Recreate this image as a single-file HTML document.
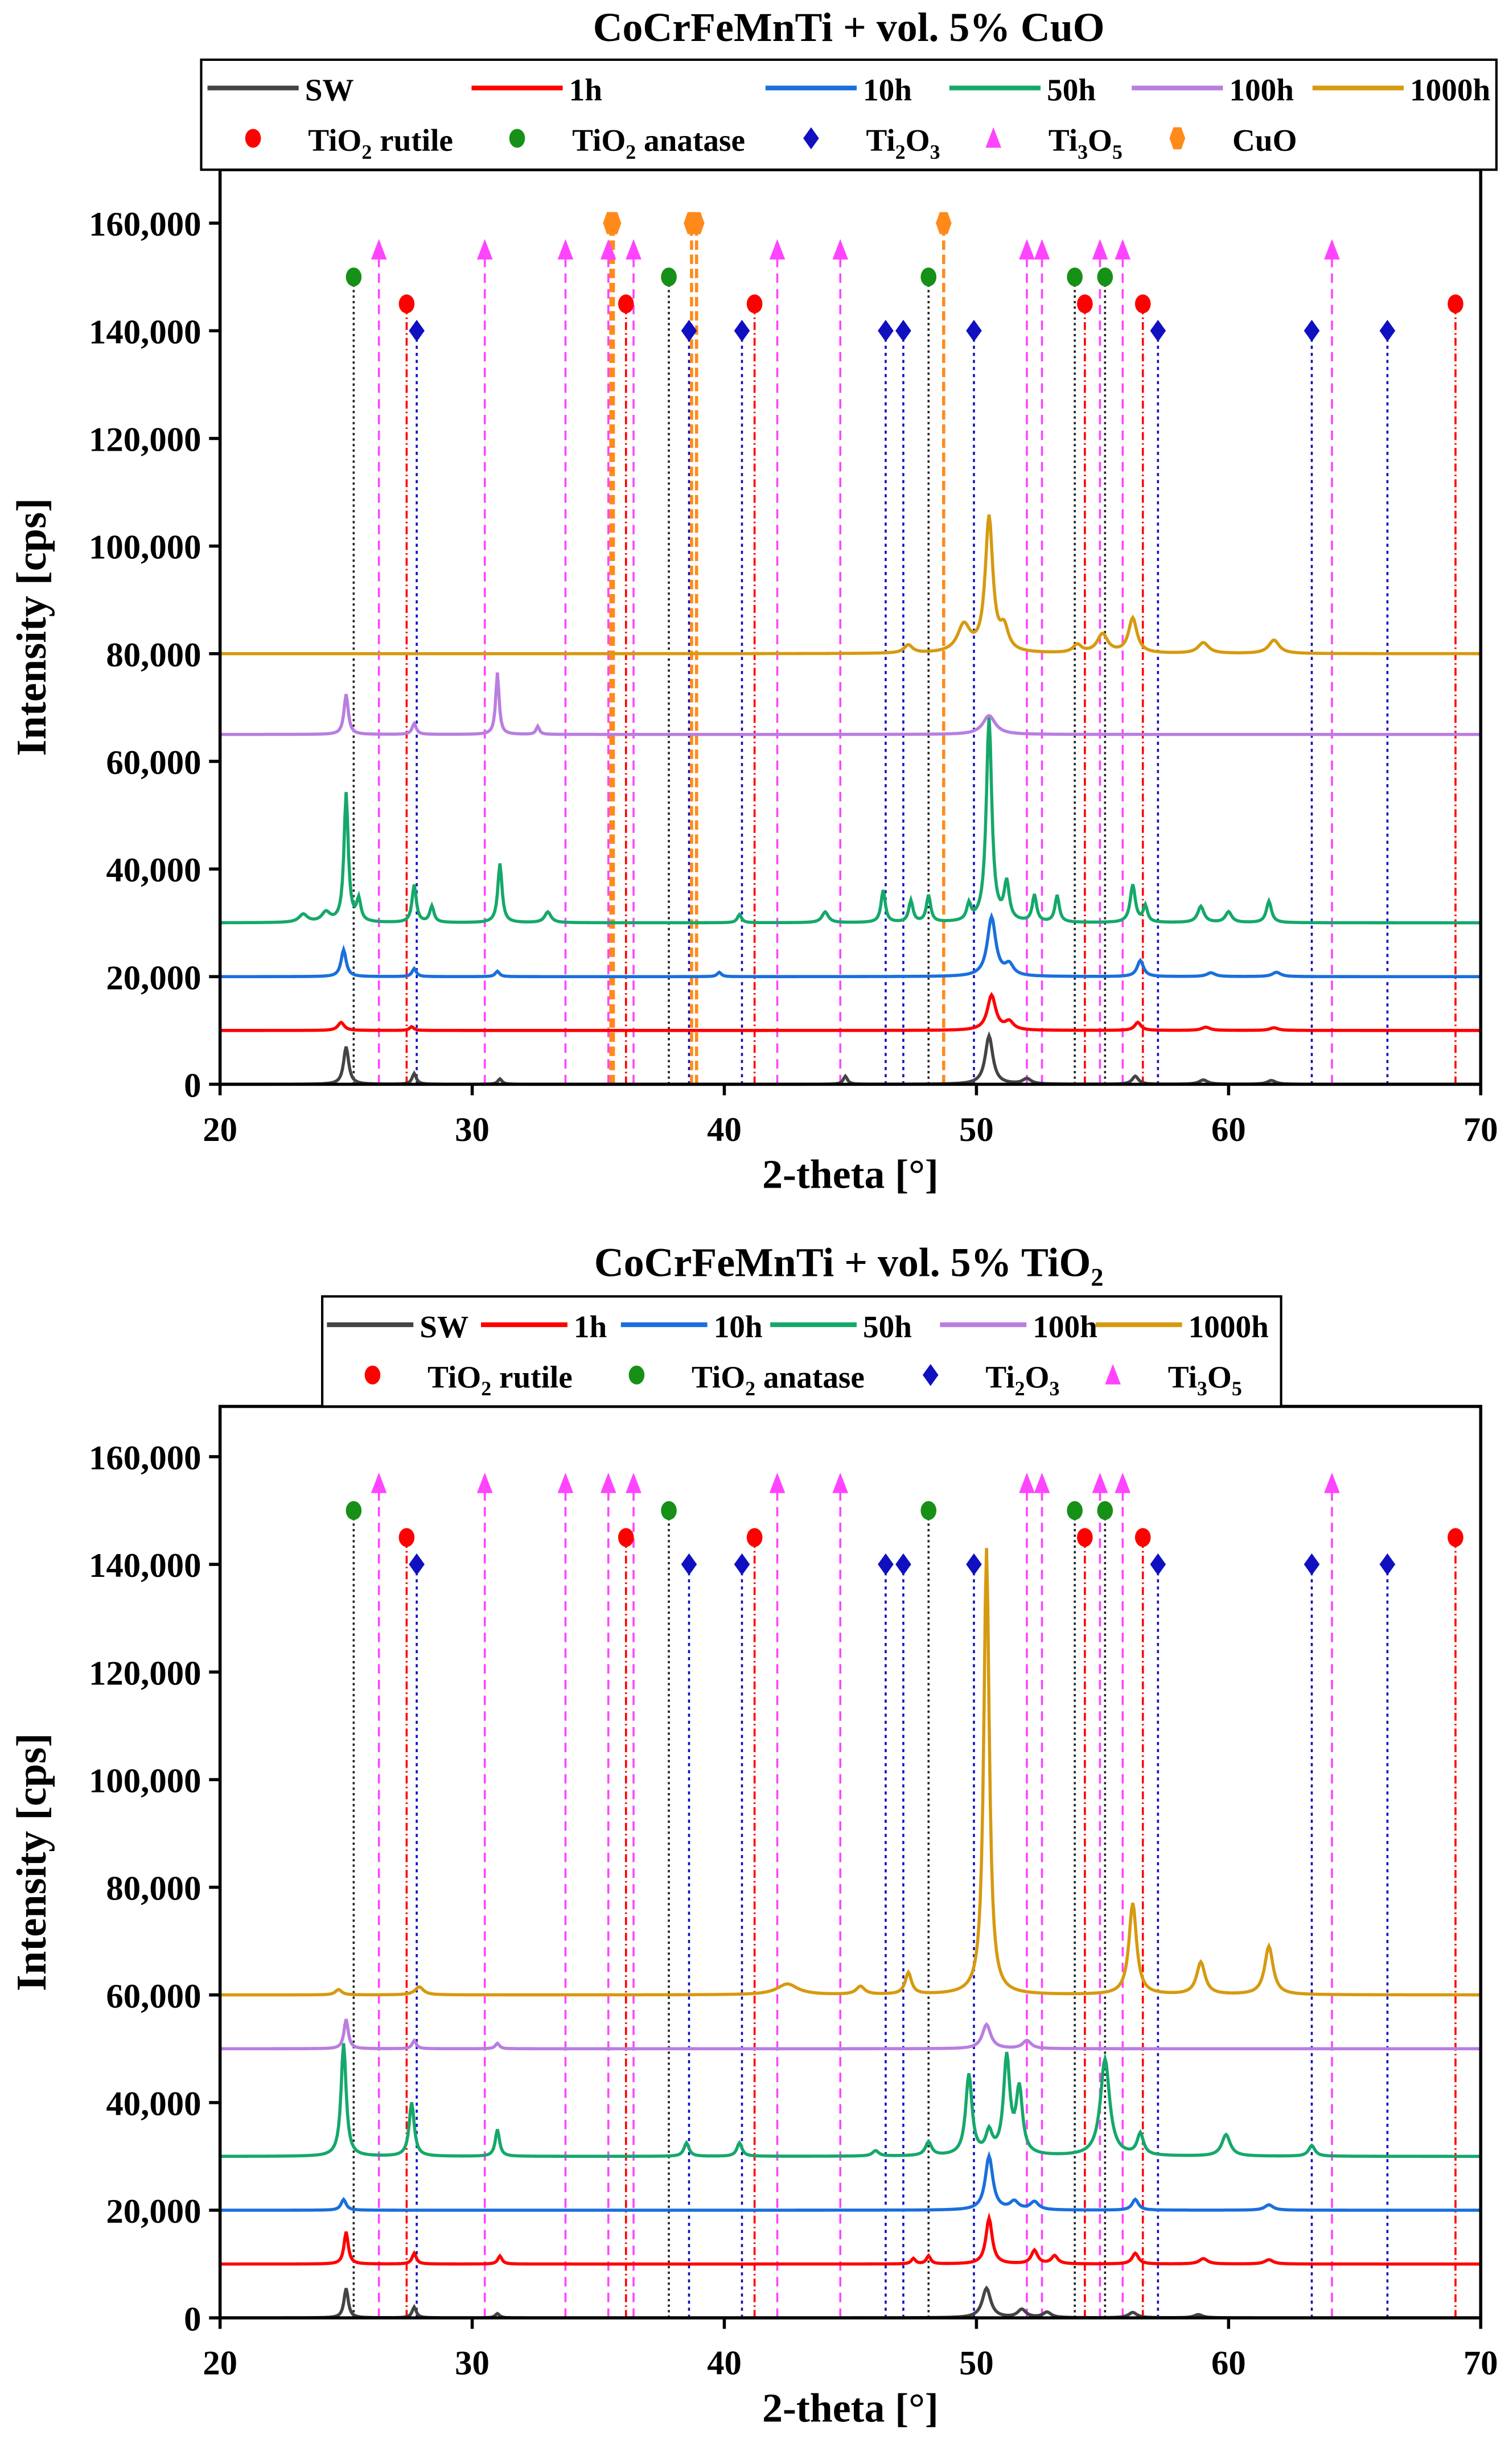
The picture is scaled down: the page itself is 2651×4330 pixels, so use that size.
<!DOCTYPE html>
<html><head><meta charset="utf-8"><style>
html,body{margin:0;padding:0;background:#fff}
svg{display:block}
text{font-family:"Liberation Serif",serif;font-weight:bold;fill:#000}
</style></head><body>
<svg id="root" width="2651" height="4330" viewBox="0 0 960 1568" preserveAspectRatio="none" xmlns="http://www.w3.org/2000/svg"></svg>
<script>
// ---- data ----
const seriesNames = ["SW","1h","10h","50h","100h","1000h"];
const seriesColors = ["#444444","#ff0000","#1a6fdc","#15a86a","#b97ee0","#d69a10"];
const topOffsets = [0,10000,20000,30000,65000,80000];
const botOffsets = [0,10000,20000,30000,50000,60000];
// peaks: [2theta, height, halfwidth]
const topPeaks = [
 [[25.0,7000,0.12],[27.7,2000,0.1],[31.1,1000,0.1],[44.8,1500,0.1],[50.5,9000,0.18],[52,1000,0.2],[56.3,1500,0.15],[59,800,0.2],[61.7,700,0.2]],
 [[24.8,1500,0.15],[27.6,700,0.1],[50.6,6500,0.2],[51.3,1500,0.2],[56.4,1500,0.15],[59.1,600,0.2],[61.8,500,0.2]],
 [[24.9,5000,0.12],[27.7,1500,0.1],[31,1000,0.1],[39.8,800,0.1],[50.6,11000,0.2],[51.3,2000,0.2],[56.5,3000,0.15],[59.3,700,0.2],[61.9,800,0.2]],
 [[23.3,1500,0.2],[24.2,1800,0.2],[25.0,24000,0.1],[25.5,4000,0.1],[27.7,7000,0.1],[28.4,3000,0.1],[31.1,11000,0.1],[33,2000,0.15],[40.6,1500,0.1],[44,2000,0.15],[46.3,6000,0.1],[47.4,4000,0.1],[48.1,5000,0.1],[49.7,3000,0.1],[50.5,38000,0.13],[51.2,7000,0.12],[52.3,5000,0.1],[53.2,5000,0.1],[56.2,7000,0.12],[56.7,3000,0.1],[58.9,3000,0.15],[60,2000,0.15],[61.6,4000,0.12]],
 [[25.0,7500,0.1],[27.7,2000,0.1],[31.0,11500,0.08],[32.6,1500,0.08],[50.5,3500,0.3]],
 [[47.3,1500,0.2],[49.5,5000,0.3],[50.5,25000,0.18],[51.1,4000,0.2],[54,1500,0.2],[55,3500,0.25],[56.2,6500,0.2],[59,2000,0.25],[61.8,2500,0.25]]
];
const botPeaks = [
 [[25,5500,0.1],[27.7,2000,0.1],[31,800,0.1],[50.4,5500,0.2],[51.8,1500,0.2],[52.8,1000,0.2],[56.2,1000,0.2],[58.8,600,0.2]],
 [[25,6000,0.1],[27.7,2000,0.1],[31.1,1500,0.1],[47.5,1000,0.1],[48.1,1500,0.1],[50.5,8500,0.15],[52.3,2500,0.15],[53.1,1500,0.15],[56.3,2000,0.15],[59,1000,0.2],[61.6,800,0.2]],
 [[24.9,2000,0.12],[50.5,10000,0.18],[51.5,1500,0.2],[52.3,1500,0.2],[56.3,2000,0.15],[61.6,1000,0.2]],
 [[24.9,21000,0.12],[27.6,10000,0.12],[31,5000,0.1],[38.5,2500,0.12],[40.6,2500,0.12],[46,1000,0.15],[48.1,2500,0.15],[49.7,15000,0.15],[50.5,4000,0.15],[51.2,18000,0.15],[51.7,12000,0.15],[55.1,18000,0.22],[56.5,4000,0.15],[59.9,4000,0.2],[63.3,2000,0.15]],
 [[25,5500,0.1],[27.7,1500,0.1],[31,1000,0.1],[50.4,4500,0.2],[52,1500,0.2]],
 [[24.7,1000,0.15],[27.9,1500,0.2],[42.5,2000,0.5],[45.4,1500,0.2],[47.3,4000,0.15],[50.4,83000,0.13],[56.2,17000,0.18],[58.9,6000,0.2],[61.6,9000,0.2]]
];
const refNames = ["TiO2 rutile","TiO2 anatase","Ti2O3","Ti3O5","CuO"];
const refColors = ["#ff0000","#179017","#1010c0","#ff44ff","#ff8a1a"];
const refLevels = [145000,150000,140000,155000,160000];
const refDash = ["5,2,1,2","1.5,2","2,2.5","6,4","6,3"];
const refLineColors = ["#ff0000","#222222","#1010c0","#ff44ff","#ff8a1a"];
const rutilePos = [27.4,36.1,41.2,54.3,56.6,69.0];
const anatasePos = [25.3,37.8,48.1,53.9,55.1];
const ti2o3Pos = [27.8,38.6,40.7,46.4,47.1,49.9,57.2,63.3,66.3];
const ti3o5Pos = [26.3,30.5,33.7,35.4,36.4,42.1,44.6,52.0,52.6,54.9,55.8,64.1];
const cuoPos = [35.5,35.6,38.7,38.9,48.7];
const yTicks = [0,20000,40000,60000,80000,100000,120000,140000,160000];
const yTickLabels = ["0","20,000","40,000","60,000","80,000","100,000","120,000","140,000","160,000"];
const xTicks = [20,30,40,50,60,70];

const NS="http://www.w3.org/2000/svg";
const root=document.getElementById('root');
function mk(tag,attrs,parent){const e=document.createElementNS(NS,tag);for(const k in attrs)e.setAttribute(k,attrs[k]);(parent||root).appendChild(e);return e;}

function marker(g,type,cx,cy,color){
  let e;
  if(type===0||type===1){e=mk('ellipse',{cx:cx,cy:cy,rx:5,ry:6,fill:color},g);}
  else if(type===2){e=mk('polygon',{points:`${cx},${cy-7} ${cx+5},${cy} ${cx},${cy+7} ${cx-5},${cy}`,fill:color},g);}
  else if(type===3){e=mk('polygon',{points:`${cx},${cy-7} ${cx+5},${cy+6} ${cx-5},${cy+6}`,fill:color},g);}
  else {e=mk('polygon',{points:`${cx-2.5},${cy-7} ${cx+2.5},${cy-7} ${cx+5},${cy} ${cx+2.5},${cy+7} ${cx-2.5},${cy+7} ${cx-5},${cy}`,fill:color},g);}
  
  
}

function chart(opt){
  const L=140,R=942,T=opt.T,B=opt.B;
  const X=v=>L+(v-20)/50*(R-L);
  const yScale=(B-opt.y160)/160000;
  const Yf=v=>B-v*yScale;
  const g=mk('g',{});
  
  
  const t=mk('text',{x:540,y:opt.titleY,'font-size':26,'text-anchor':'middle'},g);
  
  t.innerHTML=opt.title;
  const posLists=opt.posLists;
  posLists.forEach((pl,ri)=>{
    if(!pl)return;
    pl.forEach(p=>{
      const l=mk('line',{x1:X(p),x2:X(p),y1:Yf(0),y2:Yf(refLevels[ri]),stroke:refLineColors[ri],'stroke-width':ri===4?2:1.3,'stroke-dasharray':refDash[ri]},g);
      
    });
  });
  opt.peaks.forEach((pk,si)=>{
    let d='';
    for(let i=0;i<=1000;i++){
      const x=20+i*0.05;
      let v=opt.offsets[si];
      pk.forEach(([c,h,w])=>{const u=(x-c)/w;v+=h/(1+u*u);});
      d+=(i?'L':'M')+X(x).toFixed(2)+','+Yf(v).toFixed(2);
    }
    const p=mk('path',{d:d,fill:'none',stroke:seriesColors[si],'stroke-width':2},g);
    
    
  });
  posLists.forEach((pl,ri)=>{ if(pl) pl.forEach(p=>marker(g,ri,X(p),Yf(refLevels[ri]),refColors[ri])); });
  const f=mk('rect',{x:L,y:T,width:R-L,height:B-T,fill:'none',stroke:'#000','stroke-width':2},g);
  
  yTicks.forEach((v,i)=>{
    mk('line',{x1:L-7,x2:L,y1:Yf(v),y2:Yf(v),stroke:'#000','stroke-width':2},g);
    const tx=mk('text',{x:L-12,y:Yf(v)+8,'font-size':22,'text-anchor':'end','font-weight':'normal'},g);
    
    tx.textContent=yTickLabels[i];
  });
  xTicks.forEach(v=>{
    mk('line',{x1:X(v),x2:X(v),y1:B,y2:B+7,stroke:'#000','stroke-width':2},g);
    const tx=mk('text',{x:X(v),y:B+36,'font-size':22,'text-anchor':'middle','font-weight':'normal'},g);
    
    tx.textContent=v;
  });
  const xt=mk('text',{x:541,y:B+66,'font-size':26,'text-anchor':'middle'},g);
  
  xt.textContent='2-theta [°]';
  const yt=mk('text',{x:0,y:0,'font-size':27,'text-anchor':'middle',transform:`translate(29,${(T+B)/2}) rotate(-90)`},g);
  
  yt.textContent='Intensity [cps]';
  const lg=mk('g',{},g);
  
  mk('rect',{x:opt.lgX,y:opt.lgY,width:opt.lgW,height:70,fill:'#fff',stroke:'#000','stroke-width':1.5},lg);
  opt.lgSeriesX.forEach((lx,i)=>{
    const e=mk('line',{x1:lx,x2:lx+opt.lineLen,y1:opt.lgY+18,y2:opt.lgY+18,stroke:seriesColors[i],'stroke-width':3},lg);
    
    const tx=mk('text',{x:lx+opt.lineLen+4,y:opt.lgY+26,'font-size':20},lg);
    tx.textContent=seriesNames[i];
  });
  const refLabels=['TiO<tspan font-size="13" dy="5">2</tspan><tspan dy="-5"> rutile</tspan>','TiO<tspan font-size="13" dy="5">2</tspan><tspan dy="-5"> anatase</tspan>','Ti<tspan font-size="13" dy="5">2</tspan><tspan dy="-5">O</tspan><tspan font-size="13" dy="5">3</tspan>','Ti<tspan font-size="13" dy="5">3</tspan><tspan dy="-5">O</tspan><tspan font-size="13" dy="5">5</tspan>','CuO'];
  opt.lgRefX.forEach((lx,i)=>{
    marker(lg,i,lx,opt.lgY+50,refColors[i]);
    const tx=mk('text',{x:lx+35,y:opt.lgY+58,'font-size':20},lg);
    
    tx.innerHTML=refLabels[i];
  });
}

chart({name:'cuo-chart',title:'CoCrFeMnTi + vol. 5% CuO',titleY:26,T:108,B:690,y160:142,
  offsets:topOffsets,peaks:topPeaks,posLists:[rutilePos,anatasePos,ti2o3Pos,ti3o5Pos,cuoPos],
  lgX:128,lgY:38,lgW:824,lineLen:58,lgSeriesX:[132,300,487,604,720,835],lgRefX:[161,329,516,632,749]});
chart({name:'tio2-chart',title:'CoCrFeMnTi + vol. 5% TiO<tspan font-size="16" dy="6">2</tspan>',titleY:812,T:895,B:1475,y160:927,
  offsets:botOffsets,peaks:botPeaks,posLists:[rutilePos,anatasePos,ti2o3Pos,ti3o5Pos,null],
  lgX:205,lgY:825,lgW:610,lineLen:55,lgSeriesX:[208,306,395,490,598,697],lgRefX:[237,405,592,708]});
</script>
</body></html>
